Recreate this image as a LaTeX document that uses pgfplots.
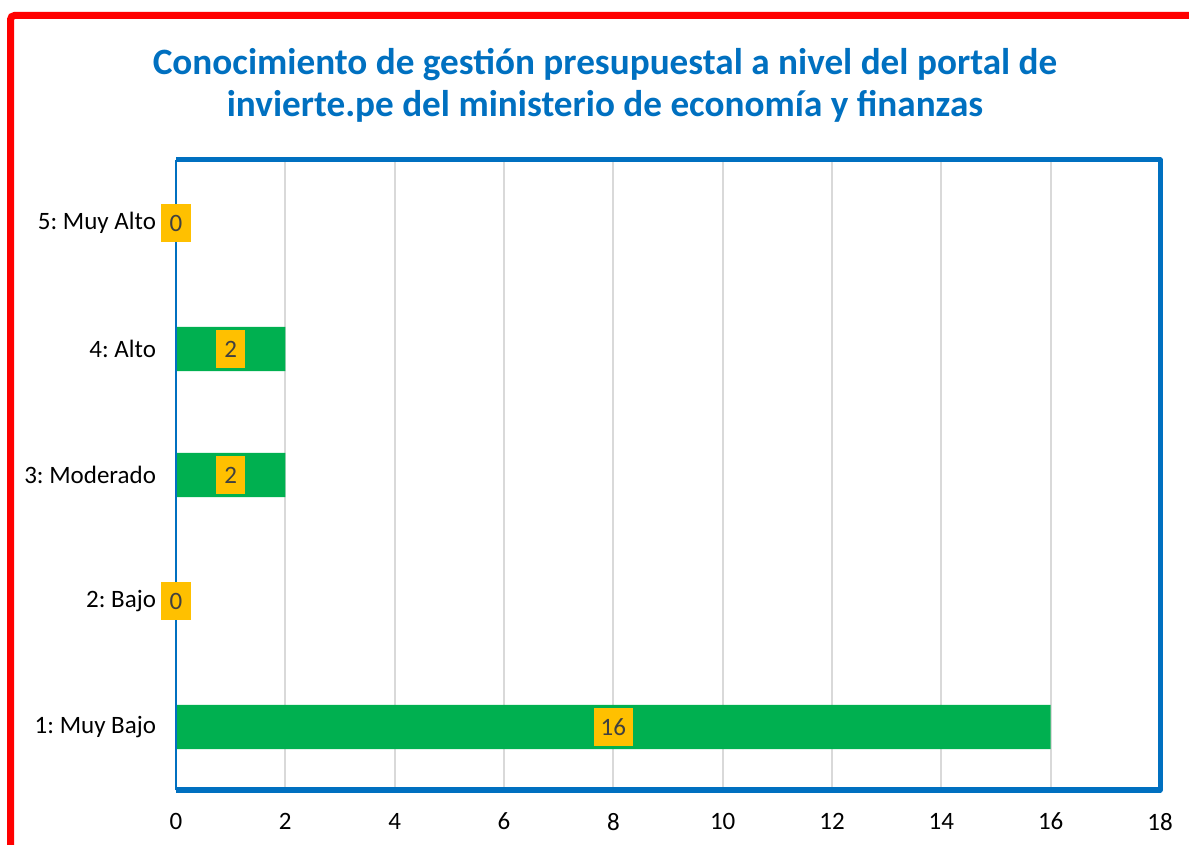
\documentclass[border=0pt]{standalone}
\usepackage{fontspec}
\setmainfont{Carlito}
\usepackage{pgfplots}
\pgfplotsset{compat=1.18}
\definecolor{titleblue}{HTML}{0070C0}
\definecolor{framered}{HTML}{FF0000}
\definecolor{bargreen}{HTML}{00B050}
\definecolor{labelorange}{HTML}{FFC000}
\definecolor{labeltext}{HTML}{404040}
\definecolor{gridgray}{HTML}{D9D9D9}

\begin{document}
\frenchspacing
\begin{tikzpicture}
\path[use as bounding box] (0,0) rectangle (594.5bp,422.5bp);
% red outer frame (left and top)
\draw[framered, line width=3.5bp, rounded corners=2bp]
  (5.25bp,-10bp) -- (5.25bp,414.75bp) -- (610bp,414.75bp);
\node[align=center, font=\fontsize{18.6bp}{21bp}\selectfont\bfseries, text=titleblue]
  at (302.5bp,379.8bp)
  {Conocimiento de gestión presupuestal a nivel del portal de\\invierte.pe del ministerio de economía y finanzas};
\begin{axis}[
  at={(88bp,27.5bp)}, anchor=south west,
  width=492bp, height=315bp, scale only axis,
  xmin=0, xmax=18, ymin=0.5, ymax=5.5,
  xtick={0,2,...,18}, ytick={1,2,3,4,5},
  yticklabels={1: Muy Bajo, 2: Bajo, 3: Moderado, 4: Alto, 5: Muy Alto},
  xmajorgrids, grid style={gridgray, line width=1bp},
  axis line style={draw=none},
  major tick length=0pt,
  tick label style={font=\fontsize{12.5bp}{15bp}\selectfont\frenchspacing, text=black},
  /pgf/number format/assume math mode=true,
  xticklabel style={yshift=-8bp},
  yticklabel style={xshift=-6.5bp},
  clip=false,
]
\addplot[xbar, bar width=22bp, fill=bargreen, draw=none]
  coordinates {(16,1) (0,2) (2,3) (2,4) (0,5)};
% value labels, placed at the middle of each bar
\addplot[draw=none, nodes near coords, point meta=explicit symbolic,
  nodes near coords align=center,
  every node near coord/.append style={fill=labelorange, text=labeltext,
    font=\fontsize{12.5bp}{15bp}\selectfont, inner xsep=3.5bp, inner ysep=0pt,
    minimum height=19bp, minimum width=14.5bp}]
  coordinates {(8,1) [16] (0,2) [0] (1,3) [2] (1,4) [2] (0,5) [0]};
% plot-area frame
\draw[titleblue, line width=2.5bp, line join=round]
  (rel axis cs:0,0) -- (rel axis cs:1,0) -- (rel axis cs:1,1) -- (rel axis cs:0,1);
\draw[titleblue, line width=1.2bp] (rel axis cs:0,0) -- (rel axis cs:0,1);
\end{axis}
\end{tikzpicture}
\end{document}
